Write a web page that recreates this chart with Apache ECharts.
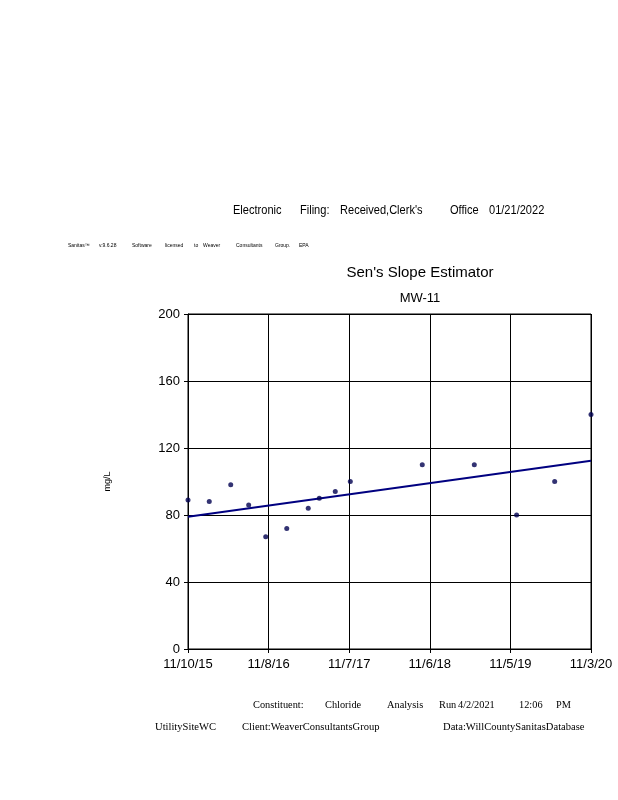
<!DOCTYPE html>
<html>
<head>
<meta charset="utf-8">
<script src="https://cdn.jsdelivr.net/npm/echarts@6/dist/echarts.min.js"></script>
<style>
  html, body { margin: 0; padding: 0; background: #fff; }
  #chart { width: 618px; height: 800px; }
</style>
</head>
<body>
<div id="chart"></div>
<script>
// Chloride samples for well MW-11 (mg/L)
const startDate = '2015-11-10';
const sampleDates = ['2015-11-10', '2016-02-14', '2016-05-21', '2016-08-10', '2016-10-26',
  '2017-01-29', '2017-05-06', '2017-06-25', '2017-09-05', '2017-11-12',
  '2018-10-03', '2019-05-26', '2019-12-03', '2020-05-23', '2020-11-03'];
const chlorideValues = [89, 88, 98, 86, 67, 72, 84, 90, 94, 100, 110, 110, 80, 100, 140];

// Sen's slope trend line end points
const trendDates = ['2015-11-10', '2020-11-03'];
const trendValues = [79.0, 112.4];

// Axis ticks
const xTickStepDays = 364;
const xMaxDays = 1820;
const yTicks = [0, 40, 80, 120, 160, 200];

const DAY = 86400000;
const t0 = Date.parse(startDate + 'T00:00:00Z');
const toDays = s => Math.round((Date.parse(s + 'T00:00:00Z') - t0) / DAY);
const fmtDate = v => {
  const d = new Date(t0 + v * DAY);
  return (d.getUTCMonth() + 1) + '/' + d.getUTCDate() + '/' + String(d.getUTCFullYear()).slice(2);
};

const sans = '"Liberation Sans", Arial, sans-serif';
const serif = '"Liberation Serif", "Times New Roman", serif';

// Place a row of words, each at its own left edge, vertically centred on y
function words(list, y, size, family, sx) {
  return list.map(([t, x]) => ({
    type: 'text', x: x, y: y, scaleX: sx || 1, originX: 0,
    style: { text: t, fontSize: size, fontFamily: family, fill: '#000',
             textAlign: 'left', textVerticalAlign: 'middle' }
  }));
}

const chart = echarts.init(document.getElementById('chart'), null, { renderer: 'canvas' });
chart.setOption({
  animation: false,
  backgroundColor: '#fff',
  title: [
    { text: "Sen's Slope Estimator", left: 415, top: 260, textAlign: 'center',
      textStyle: { fontFamily: sans, fontSize: 15, fontWeight: 'normal', color: '#000' } },
    { text: 'MW-11', left: 415, top: 287, textAlign: 'center',
      textStyle: { fontFamily: sans, fontSize: 13, fontWeight: 'normal', color: '#000' } }
  ],
  graphic: [].concat(
    words([['Electronic', 233], ['Filing:', 300], ["Received,Clerk's", 340], ['Office', 450], ['01/21/2022', 489]], 210, 13, sans, 0.85),
    words([['Sanitas\u2122', 68], ['v.9.6.28', 99], ['Software', 132], ['licensed', 165], ['to', 194], ['Weaver', 203],
           ['Consultants', 236], ['Group.', 275], ['EPA', 299]], 246, 5, sans),
    words([['Constituent:', 253], ['Chloride', 325], ['Analysis', 387], ['Run', 439], ['4/2/2021', 458], ['12:06', 519], ['PM', 556]], 705, 11, serif, 0.94),
    words([['UtilitySiteWC', 155], ['Client:WeaverConsultantsGroup', 242], ['Data:WillCountySanitasDatabase', 443]], 727, 11, serif, 0.96)
  ),
  grid: { left: 188, right: 27, top: 314, bottom: 151, show: true, borderColor: '#000', borderWidth: 1, backgroundColor: 'transparent' },
  xAxis: {
    type: 'value', min: 0, max: xMaxDays, interval: xTickStepDays,
    axisLine: { show: true, lineStyle: { color: '#000', width: 1 } },
    axisTick: { show: true, length: 4, lineStyle: { color: '#000' } },
    splitLine: { show: true, lineStyle: { color: '#000', width: 1 } },
    axisLabel: { formatter: fmtDate, color: '#000', fontFamily: sans, fontSize: 13, margin: 9 }
  },
  yAxis: {
    type: 'value', min: yTicks[0], max: yTicks[yTicks.length - 1], interval: yTicks[1] - yTicks[0],
    name: 'mg/L', nameLocation: 'middle', nameGap: 76, nameRotate: 90,
    nameTextStyle: { fontFamily: sans, fontSize: 9, color: '#000' },
    axisLine: { show: true, lineStyle: { color: '#000', width: 1 } },
    axisTick: { show: true, length: 4, lineStyle: { color: '#000' } },
    splitLine: { show: true, lineStyle: { color: '#000', width: 1 } },
    axisLabel: { color: '#000', fontFamily: sans, fontSize: 13, margin: 8 }
  },
  series: [
    {
      type: 'line', name: 'Trend', silent: true,
      data: trendDates.map((d, i) => [toDays(d), trendValues[i]]),
      showSymbol: false, symbol: 'none',
      lineStyle: { color: '#000080', width: 2 }, z: 2
    },
    {
      type: 'scatter', name: 'Chloride',
      data: sampleDates.map((d, i) => [toDays(d), chlorideValues[i]]),
      symbol: 'circle', symbolSize: 5,
      itemStyle: { color: '#000050' }, z: 3
    }
  ]
});
</script>
</body>
</html>
